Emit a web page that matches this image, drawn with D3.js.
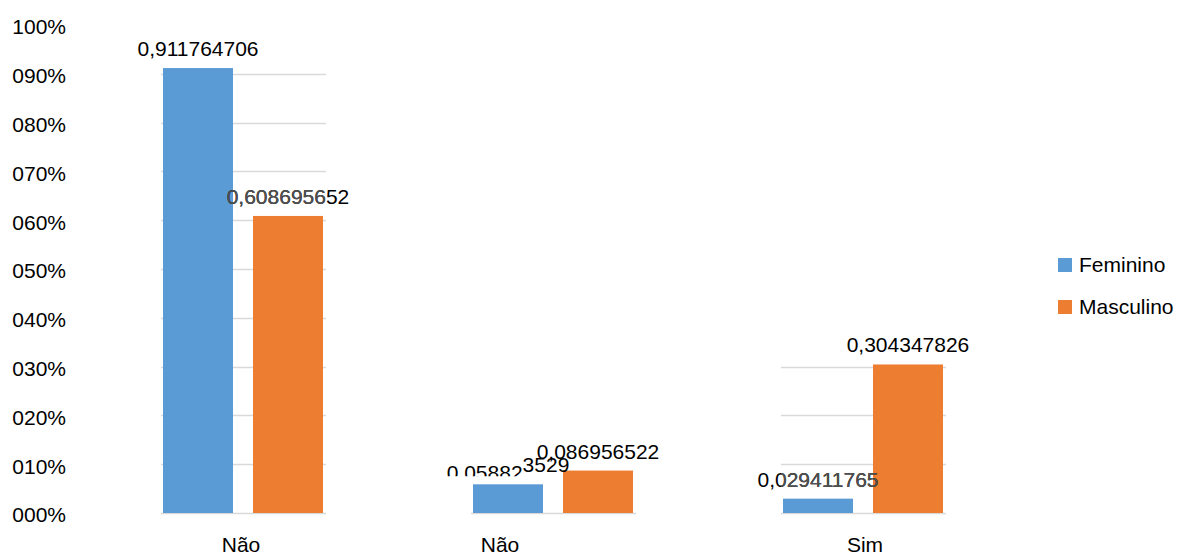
<!DOCTYPE html>
<html>
<head>
<meta charset="utf-8">
<script src="https://cdn.jsdelivr.net/npm/d3@7/dist/d3.min.js"></script>
<style>
  html, body { margin: 0; padding: 0; background: #fff; }
  svg { display: block; font-family: "Liberation Sans", Arial, sans-serif; }
</style>
</head>
<body>
<svg id="chart" width="1181" height="554"></svg>
<script>
// ---- data ----
const categories = ["Não", "Não", "Sim"];
const seriesNames = ["Feminino", "Masculino"];
const feminino = [0.911764706, 0.058823529, 0.029411765];
const masculino = [0.608695652, 0.086956522, 0.304347826];
const tickValues = [0, 0.1, 0.2, 0.3, 0.4, 0.5, 0.6, 0.7, 0.8, 0.9, 1.0];
const tickLabels = ["000%", "010%", "020%", "030%", "040%", "050%", "060%", "070%", "080%", "090%", "100%"];

// ---- layout / style ----
const colors = ["#5B9BD5", "#ED7D31"];
const catLabelDx = [-2, -53, 2];
const fontSize = 21;

const svg = d3.select("#chart");
const seriesValues = [feminino, masculino];
const rows = categories.map((c, i) => ({ i, cat: c, values: seriesValues.map((s, k) => ({ k, v: s[i] })) }));

const y = d3.scaleLinear().domain([0, 1]).range([513, 25]);
const x0 = d3.scaleBand().domain(d3.range(categories.length)).range([88, 1018])
  .paddingInner(150 / 310).paddingOuter(75 / 310);
const x1 = d3.scaleBand().domain(d3.range(seriesNames.length)).range([0, x0.bandwidth()])
  .paddingInner(20 / 90).paddingOuter(0);

const fmt = v => String(v).replace(".", ",");

// gridlines per group, only up to the group's max
const groups = svg.append("g").selectAll("g").data(rows).join("g")
  .attr("transform", d => `translate(${x0(d.i)},0)`);

groups.each(function (d) {
  const maxV = d3.max(d.values, e => e.v);
  const lines = tickValues.filter(t => t <= maxV + 1e-9);
  d3.select(this).selectAll("line.grid").data(lines).join("line")
    .attr("class", "grid")
    .attr("x1", -2).attr("x2", x0.bandwidth() + 3)
    .attr("y1", t => Math.round(y(t)) + 0.5).attr("y2", t => Math.round(y(t)) + 0.5)
    .attr("stroke", "#d9d9d9").attr("stroke-width", 1.5);
});

// bars
groups.selectAll("rect.bar").data(d => d.values).join("rect")
  .attr("class", "bar")
  .attr("x", e => x1(e.k))
  .attr("width", x1.bandwidth())
  .attr("y", e => y(e.v))
  .attr("height", e => y(0) - y(e.v))
  .attr("fill", e => colors[e.k]);

// clip paths for grey-overlay region per group
const defs = svg.append("defs");
rows.forEach(d => {
  const maxV = d3.max(d.values, e => e.v);
  const top = Math.floor(maxV * 10 + 1e-9) / 10;
  defs.append("clipPath").attr("id", "region" + d.i)
    .append("rect")
    .attr("x", x0(d.i) - 2).attr("width", x0.bandwidth() + 5)
    .attr("y", y(top)).attr("height", y(0) - y(top));
});

// data labels
const labelLayer = svg.append("g").attr("font-size", fontSize).attr("text-anchor", "middle");
const labelData = [];
rows.forEach(d => d.values.forEach(e => labelData.push({ i: d.i, k: e.k, v: e.v })));

function drawLabel(sel, d, fill) {
  const cx = x0(d.i) + x1(d.k) + x1.bandwidth() / 2;
  const by = y(d.v) - 12;
  const t = sel.append("text").attr("x", cx).attr("y", by).attr("fill", fill);
  const s = fmt(d.v);
  if (d.i === 1 && d.k === 0) {
    // glitched label: first part pushed down and cut off
    t.append("tspan").attr("dy", 8).text(s.slice(0, 7));
    t.append("tspan").attr("dy", -8).text(s.slice(7));
  } else {
    t.text(s);
  }
  return t;
}

labelData.forEach(d => {
  const g = labelLayer.append("g");
  if (d.i === 1 && d.k === 0) {
    defs.append("clipPath").attr("id", "cut" + d.i + d.k).append("rect")
      .attr("x", 0).attr("width", 1181).attr("y", 0).attr("height", y(d.v) - 8);
    g.attr("clip-path", `url(#cut${d.i}${d.k})`);
  }
  drawLabel(g, d, "#000");
  const g2 = labelLayer.append("g").attr("clip-path", `url(#region${d.i})`);
  drawLabel(g2, d, "#505050");
});

// y-axis tick labels
svg.append("g").attr("font-size", fontSize).attr("text-anchor", "end")
  .selectAll("text").data(tickValues).join("text")
  .attr("x", 66).attr("y", t => y(t) + 2)
  .attr("dy", "0.35em")
  .text((t, i) => tickLabels[i]);

// category labels
svg.append("g").attr("font-size", fontSize).attr("text-anchor", "middle")
  .selectAll("text").data(rows).join("text")
  .attr("x", d => x0(d.i) + x0.bandwidth() / 2 + catLabelDx[d.i])
  .attr("y", 552)
  .text(d => d.cat);

// legend
const legend = svg.append("g").attr("font-size", fontSize)
  .selectAll("g").data(seriesNames).join("g")
  .attr("transform", (d, i) => `translate(1058,${258 + i * 42})`);
legend.append("rect").attr("width", 14).attr("height", 14).attr("fill", (d, i) => colors[i]);
legend.append("text").attr("x", 21).attr("y", 14).text(d => d);
</script>
</body>
</html>
